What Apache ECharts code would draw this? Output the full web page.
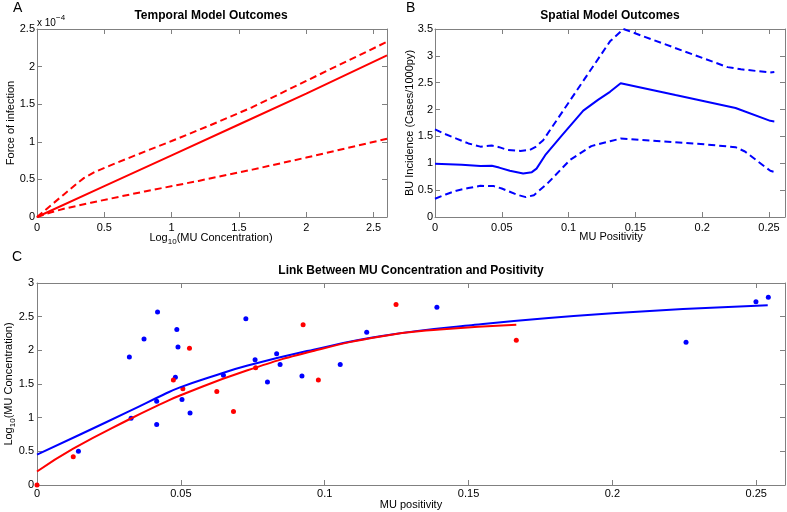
<!DOCTYPE html>
<html>
<head>
<meta charset="utf-8">
<script src="https://cdn.jsdelivr.net/npm/echarts@6/dist/echarts.min.js"></script>
<style>
html,body{margin:0;padding:0;background:#fff;}
#chart{width:787px;height:512px;}
</style>
</head>
<body>
<div id="chart"></div>
<script>
// ---------- Panel A: Temporal model (force of infection, units of 1e-4) ----------
const tempSolid = [[0,0],[0.5,0.41],[1,0.82],[1.5,1.23],[2,1.64],[2.6,2.15]];
const tempUpper = [[0,0],[0.1,0.15],[0.2,0.30],[0.3,0.45],[0.35,0.52],[0.43,0.60],[0.55,0.69],[0.8,0.87],[1,1.01],[1.287,1.22],[1.6,1.46],[2,1.81],[2.6,2.33]];
const tempLower = [[0,0],[0.1,0.06],[0.2,0.11],[0.4,0.19],[0.8,0.34],[1.2,0.48],[1.6,0.63],[2,0.79],[2.6,1.04]];

// ---------- Panel B: Spatial model (BU incidence) ----------
const spSolid = [[0,0.99],[0.02,0.975],[0.034,0.95],[0.0425,0.955],[0.048,0.92],[0.056,0.86],[0.066,0.81],[0.0725,0.835],[0.076,0.9],[0.0825,1.15],[0.095,1.52],[0.111,1.98],[0.122,2.18],[0.131,2.33],[0.139,2.49],[0.18,2.27],[0.225,2.03],[0.251,1.79],[0.254,1.78]];
const spUpper = [[0,1.63],[0.008,1.54],[0.016,1.46],[0.025,1.37],[0.034,1.31],[0.0425,1.33],[0.048,1.3],[0.054,1.25],[0.064,1.23],[0.071,1.25],[0.075,1.3],[0.081,1.43],[0.131,3.27],[0.141,3.5],[0.186,3.09],[0.219,2.79],[0.229,2.75],[0.251,2.69],[0.254,2.70]];
const spLower = [[0,0.34],[0.008,0.42],[0.016,0.49],[0.025,0.54],[0.034,0.58],[0.044,0.575],[0.05,0.53],[0.056,0.47],[0.062,0.41],[0.068,0.37],[0.074,0.405],[0.084,0.62],[0.101,1.06],[0.117,1.32],[0.131,1.41],[0.139,1.46],[0.199,1.36],[0.225,1.30],[0.232,1.22],[0.251,0.86],[0.254,0.84]];

// ---------- Panel C: MU positivity vs log10 concentration ----------
const blueX = [0.0144,0.0321,0.0327,0.0372,0.0419,0.0416,0.0416,0.0481,0.0486,0.049,0.0504,0.0532,0.0648,0.0726,0.0758,0.0801,0.0833,0.0845,0.0921,0.1054,0.1146,0.139,0.2256,0.2499,0.2542];
const blueY = [0.50,1.90,0.99,2.17,2.57,1.245,0.90,1.60,2.31,2.05,1.27,1.07,1.63,2.47,1.86,1.53,1.95,1.79,1.62,1.79,2.27,2.64,2.12,2.72,2.79];
const redX = [0,0.0126,0.0474,0.0507,0.053,0.0625,0.0683,0.076,0.0925,0.0978,0.1248,0.1666];
const redY = [0,0.42,1.56,1.43,2.03,1.39,1.09,1.74,2.38,1.56,2.68,2.15];
const blueFitX = [0,0.015,0.0323,0.0439,0.0497,0.06,0.0729,0.0961,0.1193,0.15,0.2,0.254];
const blueFitY = [0.45,0.75,1.10,1.34,1.45,1.60,1.77,2.01,2.21,2.37,2.55,2.67];
const redFitX = [0,0.0126,0.0323,0.0439,0.0497,0.0729,0.0961,0.12,0.14,0.1666];
const redFitY = [0.20,0.54,0.98,1.22,1.33,1.70,1.99,2.21,2.31,2.38];

const yTicksA = [0,0.5,1,1.5,2,2.5];

const RED = '#ff0000', BLUE = '#0000ff';
const FONT = "'Liberation Sans', Arial, Helvetica, sans-serif";
const AX = '#808080';
const zip = (xs, ys) => xs.map((x, i) => [x, ys[i]]);

function axisBase(gridIndex, pos, min, max, interval, showLabel, margin, isX) {
  return {
    type: 'value', gridIndex, position: pos, min, max, interval,
    axisLine: {show: true, onZero: false, lineStyle: {color: AX, width: 1}},
    axisTick: {show: true, inside: true, length: 5, lineStyle: {color: AX}},
    splitLine: {show: false},
    axisLabel: {show: showLabel, color: '#000', fontSize: 11, fontFamily: FONT, margin,
      showMaxLabel: isX ? false : true, showMinLabel: true,
      formatter: v => String(+v.toFixed(4))}
  };
}

const chart = echarts.init(document.getElementById('chart'));
const lineS = (xi, yi, data, color, dashed, smooth) => ({
  type: 'line', xAxisIndex: xi, yAxisIndex: yi, data, showSymbol: false, symbol: 'none',
  smooth: smooth || false, animation: false,
  lineStyle: {color, width: 2, type: dashed ? [7, 4] : 'solid'}
});

const sub = (cx, cy, rot) => ({
  type: 'text', x: cx, y: cy, rotation: rot || 0,
  style: {
    text: '{n|Log}{s|10}{n|(MU Concentration)}',
    rich: {
      n: {fontSize: 11, fontFamily: FONT, fill: '#000'},
      s: {fontSize: 8, fontFamily: FONT, fill: '#000', padding: [7, 0, 0, 0]}
    },
    align: 'center', textAlign: 'center', verticalAlign: 'middle', textVerticalAlign: 'middle'
  }
});
const txt = (x, y, text, size, opts) => Object.assign({
  type: 'text', x, y,
  style: Object.assign({text, fill: '#000', font: (opts && opts.bold ? 'bold ' : '') + size + 'px ' + FONT,
    align: 'center', textAlign: 'center', verticalAlign: 'middle', textVerticalAlign: 'middle'}, opts && opts.style)
}, opts && opts.el);

chart.setOption({
  animation: false,
  backgroundColor: '#fff',
  grid: [
    {left: 37, top: 29, width: 350, height: 188},
    {left: 435, top: 29, width: 350, height: 188},
    {left: 37, top: 283, width: 748, height: 202}
  ],
  xAxis: [
    axisBase(0, 'bottom', 0, 2.6, 0.5, true, 5, true),
    axisBase(0, 'top', 0, 2.6, 0.5, false, 5, true),
    axisBase(1, 'bottom', 0, 0.262, 0.05, true, 5, true),
    axisBase(1, 'top', 0, 0.262, 0.05, false, 5, true),
    axisBase(2, 'bottom', 0, 0.26, 0.05, true, 3, true),
    axisBase(2, 'top', 0, 0.26, 0.05, false, 3, true)
  ],
  yAxis: [
    axisBase(0, 'left', yTicksA[0], yTicksA[yTicksA.length - 1], 0.5, true, 2, false),
    axisBase(0, 'right', 0, 2.5, 0.5, false, 2, false),
    axisBase(1, 'left', 0, 3.5, 0.5, true, 2, false),
    axisBase(1, 'right', 0, 3.5, 0.5, false, 2, false),
    axisBase(2, 'left', 0, 3, 0.5, true, 3, false),
    axisBase(2, 'right', 0, 3, 0.5, false, 3, false)
  ],
  series: [
    lineS(0, 0, tempUpper, RED, true),
    lineS(0, 0, tempLower, RED, true),
    lineS(0, 0, tempSolid, RED, false),
    lineS(2, 2, spUpper, BLUE, true),
    lineS(2, 2, spLower, BLUE, true),
    lineS(2, 2, spSolid, BLUE, false),
    {type: 'scatter', xAxisIndex: 4, yAxisIndex: 4, data: zip(blueX, blueY), symbolSize: 5,
      itemStyle: {color: BLUE, opacity: 1}, clip: false},
    {type: 'scatter', xAxisIndex: 4, yAxisIndex: 4, data: zip(redX, redY), symbolSize: 5,
      itemStyle: {color: RED, opacity: 1}, clip: false},
    lineS(4, 4, zip(blueFitX, blueFitY), BLUE, false, true),
    lineS(4, 4, zip(redFitX, redFitY), RED, false, true)
  ],
  graphic: [
    txt(13, 8, 'A', 14, {style: {align: 'left', textAlign: 'left'}}),
    txt(406, 8, 'B', 14, {style: {align: 'left', textAlign: 'left'}}),
    txt(12, 257, 'C', 14, {style: {align: 'left', textAlign: 'left'}}),
    txt(211, 16, 'Temporal Model Outcomes', 12, {bold: true}),
    txt(610, 16, 'Spatial Model Outcomes', 12, {bold: true}),
    txt(411, 271, 'Link Between MU Concentration and Positivity', 12, {bold: true}),
    txt(37, 23.5, 'x 10', 10, {style: {align: 'left', textAlign: 'left'}}),
    txt(56, 18, '\u22124', 8, {style: {align: 'left', textAlign: 'left'}}),
    sub(211, 238),
    txt(11, 123, 'Force of infection', 11, {el: {rotation: Math.PI / 2}}),
    txt(611, 237, 'MU Positivity', 11),
    txt(410, 123, 'BU Incidence (Cases/1000py)', 11, {el: {rotation: Math.PI / 2}}),
    txt(411, 505, 'MU positivity', 11),
    sub(9, 384, Math.PI / 2)
  ]
});
</script>
</body>
</html>
